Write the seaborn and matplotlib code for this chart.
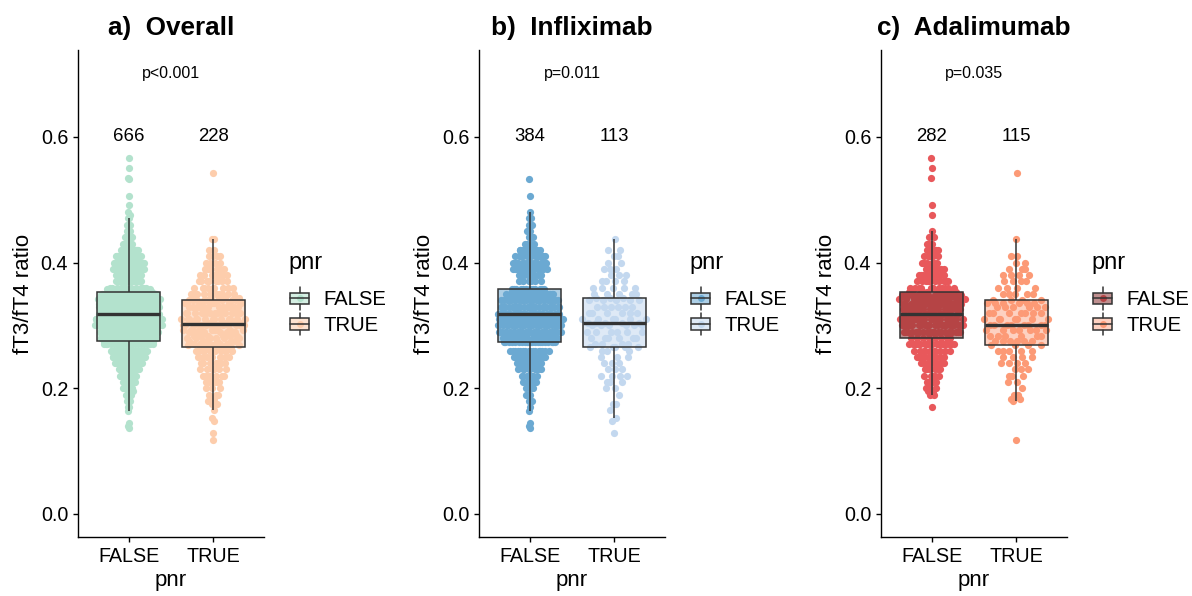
import numpy as np
import pandas as pd
import matplotlib
matplotlib.use("Agg")
import matplotlib.pyplot as plt
import seaborn as sns
from matplotlib.legend_handler import HandlerBase
from matplotlib.patches import Rectangle
from matplotlib.lines import Line2D
from matplotlib.colors import to_rgba

# ---------------------------------------------------------------------------
# fT3/fT4 ratio by pnr status, stored as (value, number of patients) pairs
# ---------------------------------------------------------------------------
# Infliximab, pnr = FALSE (n = 384)
ifx_false_vals = [0.137, 0.140, 0.144, 0.164, 0.17, 0.18, 0.19, 0.20, 0.21, 0.22,
                  0.23, 0.24, 0.25, 0.26, 0.273, 0.28, 0.29, 0.30, 0.31, 0.318,
                  0.33, 0.34, 0.35, 0.358, 0.37, 0.38, 0.39, 0.40, 0.41, 0.42,
                  0.43, 0.44, 0.45, 0.46, 0.47, 0.48, 0.506, 0.533]
ifx_false_counts = [1, 1, 1, 1, 1, 2, 3, 4, 5, 7,
                    9, 11, 14, 16, 21, 21, 24, 25, 24, 27,
                    24, 24, 21, 12, 6, 8, 17, 16, 13, 9,
                    4, 3, 2, 2, 2, 1, 1, 1]

# Infliximab, pnr = TRUE (n = 113)
ifx_true_vals = [0.129, 0.148, 0.152, 0.165, 0.175, 0.19, 0.20, 0.21, 0.22, 0.23,
                 0.24, 0.25, 0.26, 0.266, 0.27, 0.28, 0.29, 0.30, 0.304, 0.31,
                 0.32, 0.33, 0.34, 0.343, 0.35, 0.36, 0.37, 0.38, 0.39, 0.40,
                 0.41, 0.42, 0.437]
ifx_true_counts = [1, 1, 1, 1, 2, 1, 2, 3, 4, 3,
                   3, 3, 3, 5, 4, 6, 6, 6, 5, 6,
                   6, 6, 5, 3, 5, 5, 4, 3, 3, 2,
                   2, 2, 1]

# Adalimumab, pnr = FALSE (n = 282)
ada_false_vals = [0.170, 0.189, 0.195, 0.20, 0.21, 0.22, 0.23, 0.24, 0.25, 0.26,
                  0.27, 0.2805, 0.29, 0.30, 0.31, 0.318, 0.326, 0.334, 0.342, 0.348,
                  0.353, 0.36, 0.37, 0.38, 0.39, 0.40, 0.41, 0.42, 0.43, 0.44,
                  0.45, 0.476, 0.492, 0.535, 0.551, 0.566]
ada_false_counts = [1, 2, 2, 3, 4, 5, 6, 8, 9, 10,
                    20, 8, 20, 22, 20, 10, 14, 16, 15, 15,
                    8, 11, 10, 9, 7, 6, 5, 5, 3, 2,
                    1, 1, 1, 1, 1, 1]

# Adalimumab, pnr = TRUE (n = 115)
ada_true_vals = [0.118, 0.179, 0.183, 0.19, 0.20, 0.21, 0.22, 0.23, 0.24, 0.25,
                 0.26, 0.268, 0.275, 0.283, 0.292, 0.301, 0.31, 0.32, 0.33, 0.336,
                 0.341, 0.35, 0.36, 0.37, 0.38, 0.39, 0.40, 0.41, 0.437, 0.542]
ada_true_counts = [1, 1, 2, 2, 1, 2, 3, 3, 4, 4,
                   5, 4, 6, 6, 7, 8, 7, 7, 6, 6,
                   4, 5, 4, 4, 4, 3, 2, 2, 1, 1]

groups = ["FALSE", "TRUE"]
panel_titles = ["a)  Overall", "b)  Infliximab", "c)  Adalimumab"]
p_labels = ["p<0.001", "p=0.011", "p=0.035"]

# point colours and box fills per panel
point_colors = [["#B3E2CD", "#FDCDAC"],
                ["#6BA9D2", "#C3D8EF"],
                ["#E8585B", "#FC9A76"]]
box_fills = [[to_rgba("#B3E2CD", 0.55), to_rgba("#FDCDAC", 0.55)],
             [to_rgba("#6BA9D2", 0.55), to_rgba("#C3D8EF", 0.55)],
             [to_rgba("#8C3434", 0.55), to_rgba("#FC9A76", 0.45)]]


def expand(vals, counts):
    return np.repeat(np.asarray(vals, float), counts)


ifx = {"FALSE": expand(ifx_false_vals, ifx_false_counts),
       "TRUE": expand(ifx_true_vals, ifx_true_counts)}
ada = {"FALSE": expand(ada_false_vals, ada_false_counts),
       "TRUE": expand(ada_true_vals, ada_true_counts)}
overall = {g: np.concatenate([ifx[g], ada[g]]) for g in groups}
panels = [overall, ifx, ada]


def to_frame(d):
    return pd.DataFrame({
        "pnr": np.concatenate([[g] * len(d[g]) for g in groups]),
        "ratio": np.concatenate([d[g] for g in groups]),
    })


def van_der_corput(n):
    out = np.empty(n)
    for i in range(n):
        k, f, x = i + 1, 0.5, 0.0
        while k:
            x += f * (k % 2)
            k //= 2
            f /= 2
        out[i] = x
    return out


def quasirandom_offsets(values, half_width, adjust=0.6):
    """Density-scaled quasirandom horizontal offsets (like ggbeeswarm)."""
    y = np.asarray(values, float)
    n = len(y)
    sd = y.std(ddof=1)
    q75, q25 = np.percentile(y, [75, 25])
    bw = 0.9 * min(sd, (q75 - q25) / 1.34) * n ** -0.2 * adjust
    dens = np.exp(-0.5 * ((y[:, None] - y[None, :]) / bw) ** 2).sum(axis=1)
    dens = dens / dens.max()
    order = np.argsort(y, kind="stable")
    u = np.empty(n)
    u[order] = van_der_corput(n)
    return (u - 0.5) * 2.0 * dens * half_width


class BoxKey:
    def __init__(self, fill, dot):
        self.fill = fill
        self.dot = dot


EDGE = "#333333"


class BoxKeyHandler(HandlerBase):
    def create_artists(self, legend, orig, xdescent, ydescent, width, height,
                       fontsize, trans):
        x0, y0 = -xdescent, -ydescent
        bw, bh = width * 0.82, height * 0.62
        bx, by = x0 + (width - bw) / 2, y0 + (height - bh) / 2
        cx, cy = x0 + width / 2, y0 + height / 2
        stub = height * 0.62
        lo = Line2D([cx, cx], [cy - stub, by], color=EDGE, lw=1.1, transform=trans)
        hi = Line2D([cx, cx], [by + bh, cy + stub], color=EDGE, lw=1.1, transform=trans)
        dot = Line2D([cx], [cy], marker="o", ms=5.0, mew=0, ls="none",
                     color=orig.dot, transform=trans)
        rect = Rectangle((bx, by), bw, bh, facecolor=orig.fill, edgecolor=EDGE,
                         lw=1.1, transform=trans)
        med = Line2D([bx, bx + bw], [cy, cy], color=EDGE, lw=1.1, transform=trans)
        return [lo, hi, dot, rect, med]


sns.set_theme(style="white")
plt.rcParams["font.family"] = ["Liberation Sans", "DejaVu Sans"]
plt.rcParams["text.color"] = "black"
plt.rcParams["axes.labelcolor"] = "black"

fig = plt.figure(figsize=(11.92, 5.96), dpi=100)
W, H = 1192.0, 596.0
ax_left = [78, 479, 881]
ax_w, ax_top, ax_bottom = 186, 50, 537

for i, data in enumerate(panels):
    ax = fig.add_axes([ax_left[i] / W, (H - ax_bottom) / H,
                       ax_w / W, (ax_bottom - ax_top) / H])
    df = to_frame(data)

    sns.boxplot(data=df, x="pnr", y="ratio", hue="pnr", order=groups,
                hue_order=groups, palette=point_colors[i], legend=False,
                width=0.75, showfliers=False, showcaps=False, whis=1.5,
                linecolor=EDGE, linewidth=1.1,
                medianprops={"linewidth": 2.4, "color": EDGE}, ax=ax)
    for patch, fc in zip(ax.patches, box_fills[i]):
        patch.set_facecolor(fc)
        patch.set_zorder(2)
    for line in ax.lines:
        line.set_zorder(3)

    ax.set_xlim(-0.6, 1.6)
    ax.set_ylim(-0.0366, 0.738)

    for j, g in enumerate(groups):
        vals = data[g]
        xoff = quasirandom_offsets(vals, 0.40)
        sns.scatterplot(x=j + xoff, y=vals, color=point_colors[i][j], s=27,
                        linewidth=0, alpha=1.0, legend=False, zorder=1, ax=ax)
        ax.text(j, 0.6, f"{len(vals)}", ha="center", va="center",
                fontsize=13.4, color="black")

    ax.text(0.5, 0.70, p_labels[i], ha="center", va="center", fontsize=11.5,
            color="black")

    ax.set_xticks([0, 1])
    ax.set_xticklabels(groups)
    ax.set_yticks([0.0, 0.2, 0.4, 0.6])
    ax.set_yticklabels(["0.0", "0.2", "0.4", "0.6"])
    ax.set_xlabel("pnr", fontsize=16, labelpad=3)
    ax.set_ylabel("fT3/fT4 ratio", fontsize=16, labelpad=5)
    ax.set_title(panel_titles[i], fontsize=18.8, fontweight="bold", pad=11)

    for side in ["top", "right"]:
        ax.spines[side].set_visible(False)
    for side in ["left", "bottom"]:
        ax.spines[side].set_color("black")
        ax.spines[side].set_linewidth(1.0)
    ax.tick_params(axis="both", direction="out", length=3.6, width=1.0,
                   colors="black", labelsize=14.2, left=True, bottom=True)
    ax.grid(False)

    handles = [BoxKey(box_fills[i][j], point_colors[i][j]) for j in range(2)]
    leg = ax.legend(handles, groups, title="pnr", loc="center left",
                    bbox_to_anchor=(1.075, 0.5), frameon=False, borderpad=0,
                    fontsize=14.6, title_fontsize=17, alignment="left",
                    handlelength=1.15, handleheight=1.0, handletextpad=0.6,
                    labelspacing=0.28, handler_map={BoxKey: BoxKeyHandler()})
    leg._legend_box.sep = 11

fig.savefig("out.png", dpi=100, facecolor="white")
